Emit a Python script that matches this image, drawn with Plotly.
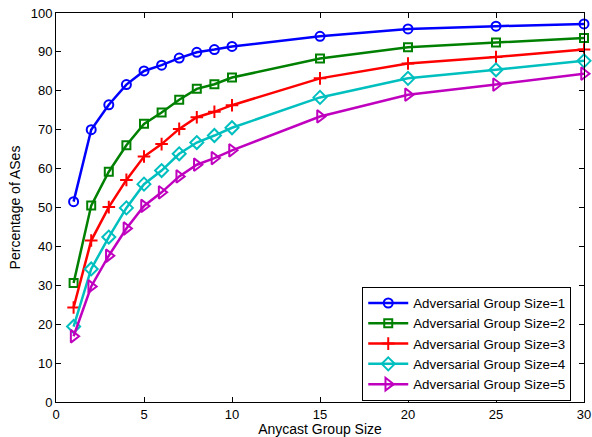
import plotly.graph_objects as go

x_vals = [1, 2, 3, 4, 5, 6, 7, 8, 9, 10, 15, 20, 25, 30]
size1 = [51.5, 70.0, 76.4, 81.6, 85.1, 86.6, 88.4, 89.9, 90.6, 91.4, 94.0, 95.9, 96.6, 97.2]
size2 = [30.6, 50.5, 59.2, 66.0, 71.5, 74.4, 77.7, 80.5, 81.7, 83.4, 88.3, 91.2, 92.4, 93.6]
size3 = [24.3, 41.5, 50.1, 57.1, 63.1, 66.3, 70.2, 73.2, 74.6, 76.3, 83.2, 87.0, 88.7, 90.6]
size4 = [19.4, 34.2, 42.4, 49.9, 56.0, 59.5, 63.8, 66.7, 68.5, 70.5, 78.3, 83.2, 85.4, 87.7]
size5 = [16.9, 29.7, 37.6, 44.6, 50.4, 53.9, 58.0, 61.0, 62.7, 64.7, 73.4, 79.0, 81.6, 84.4]

series_names = ["Adversarial Group Size=1", "Adversarial Group Size=2", "Adversarial Group Size=3",
                "Adversarial Group Size=4", "Adversarial Group Size=5"]
series_vals = [size1, size2, size3, size4, size5]
colors = ["#0000ff", "#008000", "#ff0000", "#00bfbf", "#bf00bf"]
symbols = ["circle-open", "square-open", "cross-thin-open", "diamond-open", "triangle-right-open"]
msizes = [9, 8, 9, 10, 11]

x_ticks = [0, 5, 10, 15, 20, 25, 30]
y_ticks = [0, 10, 20, 30, 40, 50, 60, 70, 80, 90, 100]

fig = go.Figure()
for name, vals, c, s, ms in zip(series_names, series_vals, colors, symbols, msizes):
    fig.add_trace(go.Scatter(
        x=x_vals, y=vals, name=name, mode="lines+markers",
        line=dict(color=c, width=2.5),
        marker=dict(symbol=s, size=ms, color=c, line=dict(color=c, width=2)),
        cliponaxis=False,
    ))

font = "Liberation Sans, Arial, Helvetica, sans-serif"
axis_common = dict(
    showgrid=False, zeroline=False, showline=True, linecolor="black", linewidth=1,
    mirror="ticks", ticks="inside", ticklen=5, tickcolor="black", tickwidth=1,
    tickfont=dict(family=font, size=13, color="black"), automargin=False,
    ticklabeloverflow="allow",
)
fig.update_layout(
    width=592, height=437,
    margin=dict(l=56, r=8, t=13, b=35),
    paper_bgcolor="white", plot_bgcolor="white",
    font=dict(family=font, size=13, color="black"),
    xaxis=dict(range=[0, 30], tickvals=x_ticks, title=dict(text="Anycast Group Size", standoff=0,
               font=dict(size=14)), **axis_common),
    yaxis=dict(range=[0, 100], tickvals=y_ticks, title=dict(text="Percentage of ASes", standoff=6,
               font=dict(size=14)), **axis_common),
    legend=dict(x=0.58, y=0.296, xanchor="left", yanchor="top",
                bgcolor="white", bordercolor="black", borderwidth=1,
                font=dict(size=13.3, family=font), itemwidth=40, tracegroupgap=0),
    showlegend=True,
)

fig.write_html("out.html", config={"displayModeBar": False},
               post_script="document.body.style.margin='0';")
